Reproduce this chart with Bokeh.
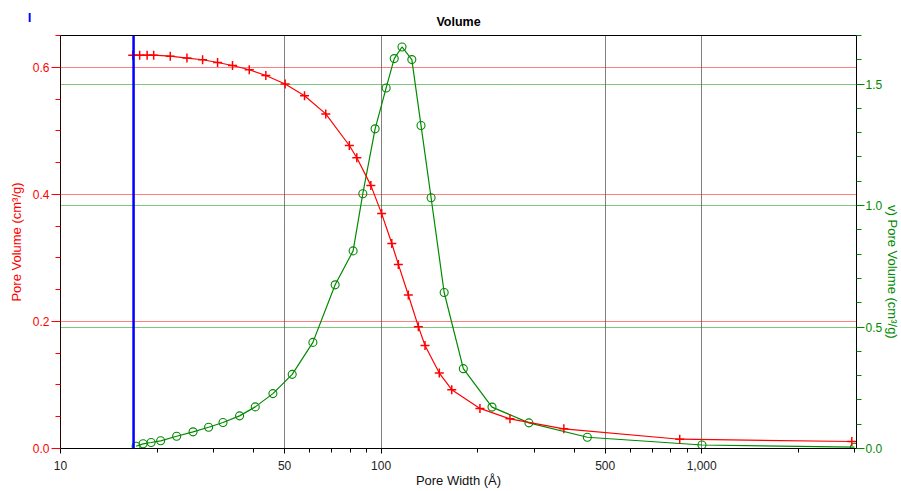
import math
from bokeh.plotting import figure
from bokeh.models import (Range1d, LinearAxis, FixedTicker, NumeralTickFormatter,
                          Grid, Span, Label)
from bokeh.embed import file_html
from bokeh.resources import INLINE

# ---------------- data ----------------
title_text = "Volume"
x_label = "Pore Width (Å)"
left_label = "Pore Volume (cm³/g)"
right_label = "v) Pore Volume (cm³/g)"
cursor_text = "I"

pore_width_cum = [16.8, 17.66, 18.63, 19.53, 22.0, 24.8, 27.75, 30.9, 34.4, 38.8,
                  43.7, 50.2, 57.7, 67.2, 79.6, 84.0, 92.9, 100.4, 108.0, 113.2,
                  121.6, 130.7, 137.1, 151.9, 166.1, 203.4, 252.3, 371.6, 854.0, 2939.0]
cum_pore_volume = [0.619, 0.619, 0.619, 0.619, 0.6175, 0.6144, 0.6118, 0.6075, 0.6028, 0.5961,
                   0.5871, 0.5736, 0.5553, 0.5266, 0.4769, 0.4576, 0.4141, 0.3697, 0.3227, 0.2897,
                   0.2416, 0.1918, 0.1620, 0.1187, 0.0925, 0.0631, 0.0467, 0.0309, 0.0146, 0.0110]

pore_width_dv = [17.21, 18.10, 19.17, 20.53, 23.03, 25.91, 28.97, 32.13, 36.19, 40.50,
                 45.98, 52.81, 61.27, 71.89, 81.79, 87.70, 95.79, 103.7, 109.9, 116.2,
                 124.7, 133.2, 143.2, 157.3, 180.5, 221.8, 289.1, 439.9, 1002.0, 2996.0]
dv_dlogw = [0.0094, 0.0193, 0.0246, 0.0316, 0.0505, 0.0686, 0.0875, 0.1068, 0.1343, 0.1713,
            0.2259, 0.3052, 0.4367, 0.6737, 0.8134, 1.0488, 1.3158, 1.4842, 1.605, 1.6527,
            1.6009, 1.3298, 1.0323, 0.6421, 0.3286, 0.1705, 0.1056, 0.0464, 0.0144, 0.0053]

cursor_width = 16.9

x_major = [10, 50, 100, 500, 1000]
x_minor = [20, 30, 40, 60, 70, 80, 90, 200, 300, 400, 600, 700, 800, 900, 2000, 3000]
left_major = [0.0, 0.2, 0.4, 0.6]
left_minor = [0.05, 0.1, 0.15, 0.25, 0.3, 0.35, 0.45, 0.5, 0.55, 0.65]
right_major = [0.0, 0.5, 1.0, 1.5]
right_minor = [0.1, 0.2, 0.3, 0.4, 0.6, 0.7, 0.8, 0.9, 1.1, 1.2, 1.3, 1.4, 1.6, 1.7]

x_start, x_end = 10, 3040
left_start, left_end = 0.0, 0.65
right_start, right_end = 0.0, 1.7

# ---------------- styles ----------------
RED = "#ff0000"
GREEN = "#008a00"
FONT = "Liberation Sans"

p = figure(width=900, height=490, x_axis_type="log",
           x_range=Range1d(x_start, x_end), y_range=Range1d(left_start, left_end),
           output_backend="svg", toolbar_location=None,
           min_border_left=60, min_border_right=43, min_border_top=35, min_border_bottom=41,
           title=title_text)
p.extra_y_ranges = {"right": Range1d(right_start, right_end)}
p.background_fill_color = "white"
p.border_fill_color = "white"
p.outline_line_color = "black"
p.outline_line_width = 1

p.title.align = "center"
p.title.text_font = FONT
p.title.text_font_size = "12.5px"
p.title.text_font_style = "bold"
p.title.text_color = "black"
p.title.standoff = 14

# x axis
xt = FixedTicker(ticks=x_major, minor_ticks=x_minor)
xa = p.xaxis[0]
xa.ticker = xt
xa.formatter = NumeralTickFormatter(format="0,0")
xa.axis_label = x_label
xa.axis_label_text_font = FONT
xa.axis_label_text_font_size = "13px"
xa.axis_label_text_font_style = "normal"
xa.axis_label_text_color = "#111111"
xa.axis_label_standoff = 0
xa.major_label_text_font = FONT
xa.major_label_text_font_size = "12px"
xa.major_label_text_color = "#222222"
xa.major_label_standoff = 7
xa.axis_line_color = "black"
xa.major_tick_line_color = "black"
xa.minor_tick_line_color = "black"
xa.major_tick_out = 5
xa.major_tick_in = 0
xa.minor_tick_out = 4
xa.minor_tick_in = 0

# left axis
lt = FixedTicker(ticks=left_major, minor_ticks=left_minor)
ya = p.yaxis[0]
ya.ticker = lt
ya.formatter = NumeralTickFormatter(format="0.0")
ya.axis_label = left_label
ya.axis_label_text_font = FONT
ya.axis_label_text_font_size = "13px"
ya.axis_label_text_font_style = "normal"
ya.axis_label_text_color = RED
ya.axis_label_standoff = 6
ya.major_label_text_font = FONT
ya.major_label_text_font_size = "12px"
ya.major_label_text_color = RED
ya.major_label_standoff = 2
ya.axis_line_color = "#2a0000"
ya.major_tick_line_color = RED
ya.minor_tick_line_color = RED
ya.major_tick_out = 9
ya.major_tick_in = 0
ya.minor_tick_out = 5
ya.minor_tick_in = 0

# right axis
rt = FixedTicker(ticks=right_major, minor_ticks=right_minor)
ra = LinearAxis(y_range_name="right", ticker=rt, formatter=NumeralTickFormatter(format="0.0"))
ra.major_label_text_font = FONT
ra.major_label_text_font_size = "12px"
ra.major_label_text_color = GREEN
ra.major_label_standoff = 1
ra.axis_line_color = "black"
ra.major_tick_line_color = GREEN
ra.minor_tick_line_color = GREEN
ra.major_tick_out = 8
ra.major_tick_in = 0
ra.minor_tick_out = 5
ra.minor_tick_in = 0
p.add_layout(ra, "right")

# grids
p.xgrid.ticker = xt
p.xgrid.grid_line_color = "black"
p.xgrid.grid_line_dash = "1 1"
p.xgrid.grid_line_alpha = 1.0
p.ygrid.ticker = lt
p.ygrid.grid_line_color = RED
p.ygrid.grid_line_dash = "1 1"
p.ygrid.grid_line_alpha = 1.0
g2 = Grid(dimension=1, ticker=rt, y_range_name="right",
          grid_line_color=GREEN, grid_line_dash="1 1", grid_line_alpha=1.0)
p.add_layout(g2)

# series
p.line(pore_width_dv, dv_dlogw, y_range_name="right", line_color=GREEN, line_width=1.2)
p.scatter(pore_width_dv, dv_dlogw, y_range_name="right", marker="circle", size=8,
          fill_color=None, line_color=GREEN, line_width=1.1)
p.line(pore_width_cum, cum_pore_volume, line_color=RED, line_width=1.2)
p.scatter(pore_width_cum, cum_pore_volume, marker="cross", size=9,
          line_color=RED, line_width=1.5)

# cursor
p.add_layout(Span(location=cursor_width, dimension="height", line_color="#0000ff", line_width=2.5))
p.add_layout(Label(x=8.0, y=0.679, text=cursor_text, text_color="#0000ff",
                   text_font=FONT, text_font_size="13px", text_font_style="bold",
                   text_align="center", text_baseline="middle"), "left")

# right-hand axis title (as visible in the reference)
p.add_layout(Label(x=3936, y=0.727, y_range_name="right", text=right_label,
                   text_color=GREEN, text_font=FONT, text_font_size="13px",
                   angle=-math.pi / 2, text_align="center", text_baseline="middle"), "right")

open("out.html", "w").write(file_html(p, INLINE))
